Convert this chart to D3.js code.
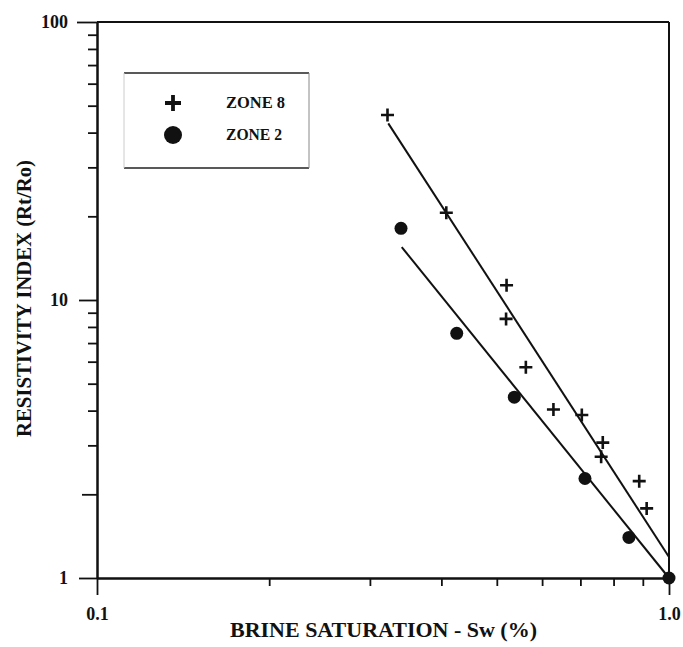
<!DOCTYPE html>
<html>
<head>
<meta charset="utf-8">
<script src="https://cdn.jsdelivr.net/npm/d3@7"></script>
<style>
  html, body { margin: 0; padding: 0; background: #fff; }
  svg { display: block; }
  text { font-family: "Liberation Serif", "Times New Roman", serif; font-weight: bold; fill: #111; }
</style>
</head>
<body>
<svg id="chart" width="683" height="647"></svg>
<script>
// ---- data ----
const zone8Sw = [0.322, 0.408, 0.520, 0.519, 0.562, 0.628, 0.704, 0.766, 0.761, 0.887, 0.914];
const zone8RI = [46.3, 20.6, 11.3, 8.55, 5.73, 4.04, 3.86, 3.07, 2.73, 2.23, 1.78];
const zone2Sw = [0.340, 0.4255, 0.5365, 0.713, 0.851, 1.0];
const zone2RI = [18.1, 7.59, 4.47, 2.28, 1.40, 1.0];
const fit8Sw = [0.323, 1.0];
const fit8RI = [43.2, 1.19];
const fit2Sw = [0.341, 1.0];
const fit2RI = [15.5, 1.0];
const xMajorTicks = [0.1, 1.0];
const xMinorTicks = [0.2, 0.3, 0.4, 0.5, 0.6, 0.7, 0.8, 0.9];
const yMajorTicks = [1, 10, 100];
const yMinorTicks = [2, 3, 4, 5, 6, 7, 8, 9, 20, 30, 40, 50, 60, 70, 80, 90];
const xTitle = "BRINE SATURATION - Sw (%)";
const yTitle = "RESISTIVITY INDEX (Rt/Ro)";
const legendLabels = ["ZONE 8", "ZONE 2"];

// ---- layout ----
const svg = d3.select("#chart");
const L = 97, R = 669, T = 22, B = 578;
const x = d3.scaleLog().domain([0.1, 1]).range([L, R]);
const y = d3.scaleLog().domain([1, 100]).range([B, T]);

// frame (top and right)
svg.append("line").attr("x1", L).attr("x2", R).attr("y1", T).attr("y2", T)
  .attr("stroke", "#111").attr("stroke-width", 2);
svg.append("line").attr("x1", R).attr("x2", R).attr("y1", T).attr("y2", B)
  .attr("stroke", "#111").attr("stroke-width", 2);

function styleAxis(g) {
  g.selectAll("path.domain").attr("stroke", "#111").attr("stroke-width", 2);
  g.selectAll(".tick line").attr("stroke", "#111").attr("stroke-width", 1.8);
  g.selectAll(".tick text").style("font-family", '"Liberation Serif", serif')
    .style("font-weight", "bold").style("font-size", "18px").attr("fill", "#111");
}

// y axis minor
svg.append("g").attr("transform", `translate(${L},0)`)
  .call(d3.axisLeft(y).tickValues(yMinorTicks).tickSize(9).tickSizeOuter(0).tickFormat(""))
  .call(styleAxis)
  .call(g => g.selectAll(".tick").filter(d => d === 2).select("line").attr("x2", -15));
// y axis major
svg.append("g").attr("transform", `translate(${L},0)`)
  .call(d3.axisLeft(y).tickValues(yMajorTicks).tickSize(18).tickSizeOuter(0).tickPadding(11)
    .tickFormat(d3.format("d")))
  .call(styleAxis)
  .call(g => g.selectAll(".tick").filter(d => d === 100).select("line").attr("x2", -20));

// x axis minor
svg.append("g").attr("transform", `translate(0,${B})`)
  .call(d3.axisBottom(x).tickValues(xMinorTicks).tickSize(8).tickSizeOuter(0).tickFormat(""))
  .call(styleAxis);
// x axis major
svg.append("g").attr("transform", `translate(0,${B})`)
  .call(d3.axisBottom(x).tickValues(xMajorTicks).tickSize(17).tickSizeOuter(0).tickPadding(12)
    .tickFormat(d3.format(".1f")))
  .call(styleAxis);

// fit lines
const line = d3.line().x(d => x(d[0])).y(d => y(d[1]));
svg.append("path").datum(d3.zip(fit8Sw, fit8RI)).attr("d", line)
  .attr("fill", "none").attr("stroke", "#111").attr("stroke-width", 2);
svg.append("path").datum(d3.zip(fit2Sw, fit2RI)).attr("d", line)
  .attr("fill", "none").attr("stroke", "#111").attr("stroke-width", 2);

// markers
function plus(g, cx, cy, s, w) {
  g.append("path").attr("d", `M${cx - s},${cy}H${cx + s}M${cx},${cy - s}V${cy + s}`)
    .attr("stroke", "#111").attr("stroke-width", w).attr("fill", "none");
}
const pts8 = svg.append("g");
d3.zip(zone8Sw, zone8RI).forEach(d => plus(pts8, x(d[0]), y(d[1]), 6.5, 2.6));
svg.append("g").selectAll("circle").data(d3.zip(zone2Sw, zone2RI)).join("circle")
  .attr("cx", d => x(d[0])).attr("cy", d => y(d[1])).attr("r", 6.5).attr("fill", "#111");

// legend
const lg = svg.append("g");
lg.append("line").attr("x1", 124).attr("x2", 309).attr("y1", 73).attr("y2", 73).attr("stroke", "#222").attr("stroke-width", 1.4);
lg.append("line").attr("x1", 124).attr("x2", 309).attr("y1", 168).attr("y2", 168).attr("stroke", "#222").attr("stroke-width", 1.4);
lg.append("line").attr("x1", 309).attr("x2", 309).attr("y1", 73).attr("y2", 168).attr("stroke", "#888").attr("stroke-width", 1);
lg.append("line").attr("x1", 124).attr("x2", 124).attr("y1", 73).attr("y2", 168).attr("stroke", "#ccc").attr("stroke-width", 1);
plus(lg, 173, 103, 8, 3.8);
lg.append("circle").attr("cx", 173).attr("cy", 135).attr("r", 9).attr("fill", "#111");
lg.append("text").attr("x", 226).attr("y", 108).attr("font-size", 16)
  .attr("textLength", 59).attr("lengthAdjust", "spacingAndGlyphs").text(legendLabels[0]);
lg.append("text").attr("x", 226).attr("y", 140).attr("font-size", 16)
  .attr("textLength", 56).attr("lengthAdjust", "spacingAndGlyphs").text(legendLabels[1]);

// axis titles
svg.append("text").attr("x", 230).attr("y", 637).attr("font-size", 21)
  .attr("textLength", 307).attr("lengthAdjust", "spacingAndGlyphs").text(xTitle);
svg.append("text").attr("transform", "translate(31,437) rotate(-90)").attr("font-size", 21)
  .attr("textLength", 277).attr("lengthAdjust", "spacingAndGlyphs").text(yTitle);
</script>
</body>
</html>
